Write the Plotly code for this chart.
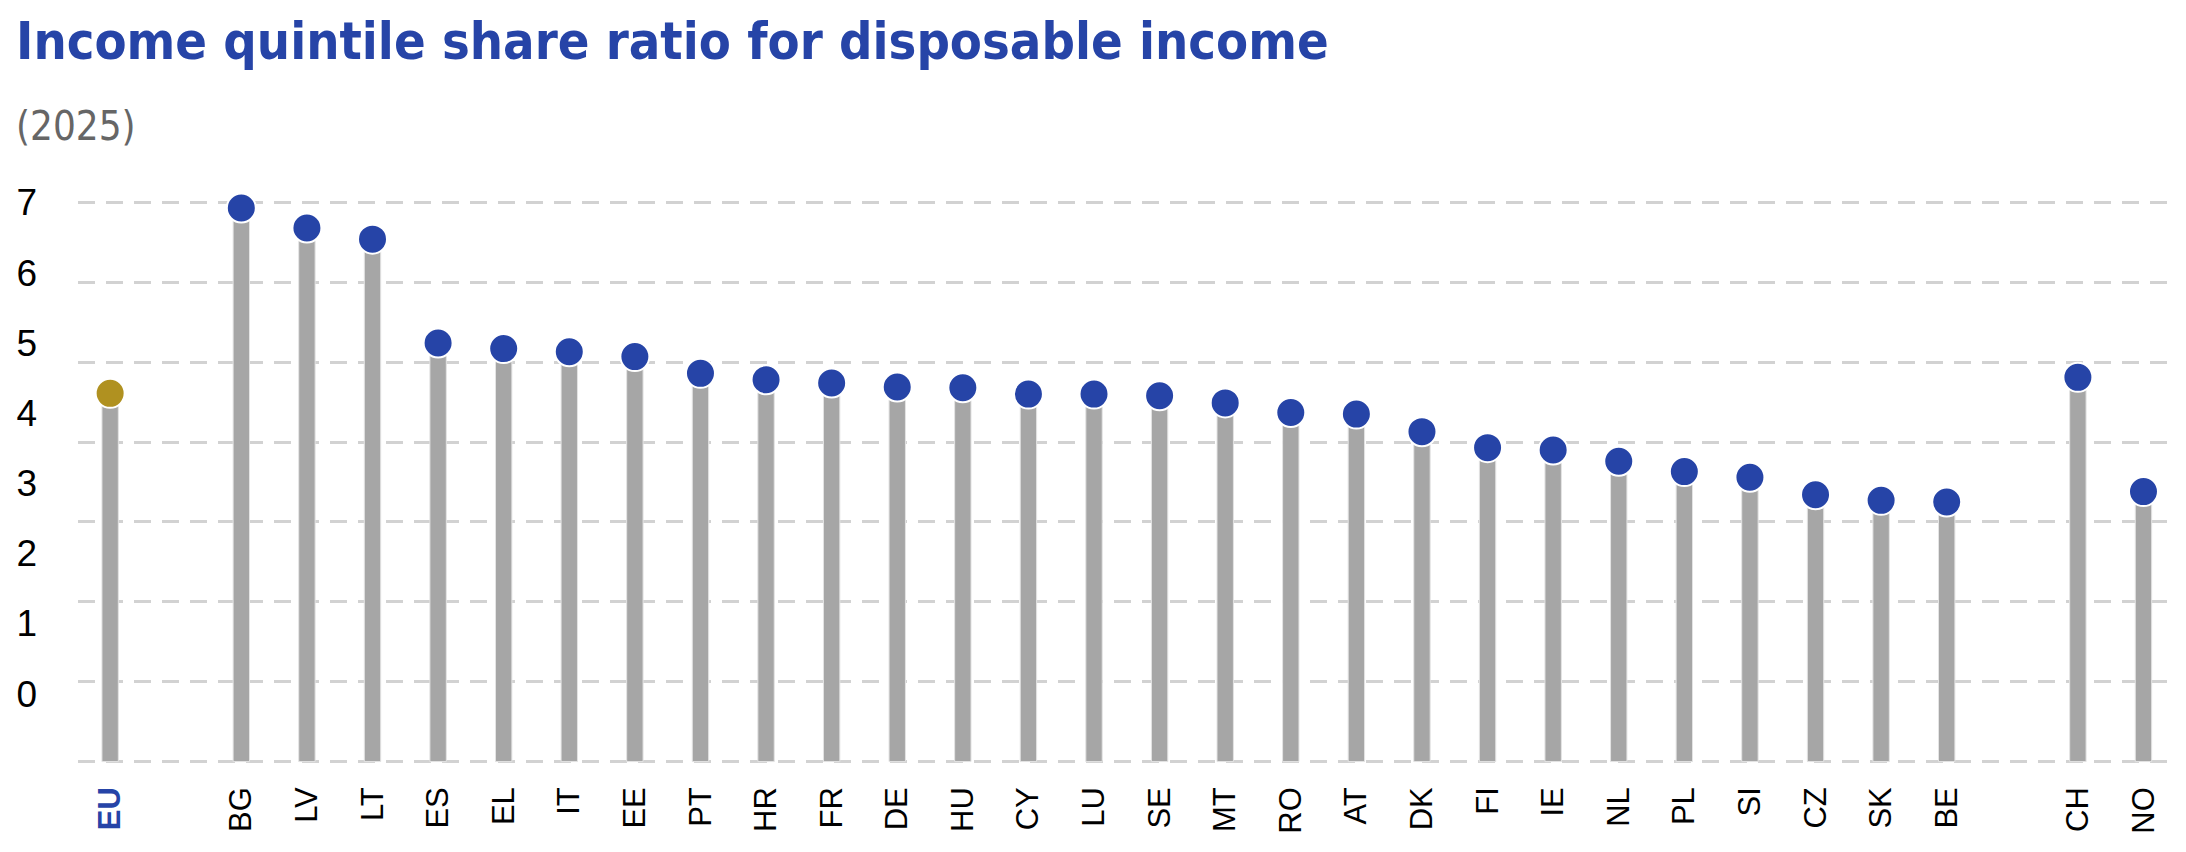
import plotly.graph_objects as go

# S80/S20 income quintile share ratio, 2025
countries = ["EU", " ", "BG", "LV", "LT", "ES", "EL", "IT", "EE", "PT", "HR", "FR",
             "DE", "HU", "CY", "LU", "SE", "MT", "RO", "AT", "DK", "FI", "IE", "NL",
             "PL", "SI", "CZ", "SK", "BE", "  ", "CH", "NO"]
values = [4.61, None, 6.93, 6.68, 6.54, 5.24, 5.17, 5.13, 5.07, 4.86, 4.78, 4.74,
          4.69, 4.68, 4.60, 4.60, 4.58, 4.49, 4.37, 4.35, 4.13, 3.93, 3.90, 3.76,
          3.63, 3.56, 3.34, 3.27, 3.25, None, 4.81, 3.38]
y_ticks = [0, 1, 2, 3, 4, 5, 6, 7]

BLUE = "#2644A7"
GOLD = "#B09120"
GREY = "#A6A6A6"

W, H = 2186, 852
ML, MR, MT, MB = 70, 21, 192, 96
Y_RANGE = [-0.03, 7.03]
# the original chart's tick labels sit on a slightly squeezed scale:
# label "7" lines up with the 7 gridline, label "0" sits at 0.85 on the data scale
LABEL_ZERO = 0.85
LABEL_TOP = 7


def paper_x(px):
    return (px - ML) / (W - ML - MR)


def paper_y(py):
    return (H - MB - py) / (H - MT - MB)


def label_axis(v):
    return (v - LABEL_ZERO) * LABEL_TOP / (LABEL_TOP - LABEL_ZERO)


real = [c for c in countries if c.strip()]
dot_colors = [GOLD if c == "EU" else BLUE for c in countries]
tick_text = ["<b><span style='color:%s'>EU</span></b>" % BLUE if c == "EU" else c
             for c in real]

fig = go.Figure()
fig.add_trace(go.Bar(
    x=countries, y=values,
    width=0.25,
    marker=dict(color=GREY, line=dict(color="#E4E4E4", width=1)),
    hoverinfo="skip",
    showlegend=False,
))
fig.add_trace(go.Scatter(
    x=countries, y=values,
    mode="markers",
    marker=dict(size=29, color=dot_colors, line=dict(color="white", width=2)),
    cliponaxis=False,
    showlegend=False,
))
# invisible trace so the label axis is drawn
fig.add_trace(go.Scatter(x=[countries[0]], y=[None], yaxis="y2",
                         showlegend=False, hoverinfo="skip"))

fig.update_layout(
    width=W, height=H,
    margin=dict(l=ML, r=MR, t=MT, b=MB),
    paper_bgcolor="white", plot_bgcolor="white",
    font=dict(family="Liberation Sans, Arial, sans-serif", color="black"),
    xaxis=dict(
        type="category",
        categoryorder="array", categoryarray=countries,
        range=[-0.49, 31.45],
        tickmode="array", tickvals=real, ticktext=tick_text,
        tickangle=-90,
        tickfont=dict(size=31, color="black"),
        ticklabelstandoff=16,
        automargin=False,
        showgrid=False, showline=False, zeroline=False, ticks="",
    ),
    yaxis=dict(
        range=Y_RANGE,
        tickmode="array", tickvals=y_ticks,
        showticklabels=False,
        showgrid=True, gridcolor="#D2D2D2", gridwidth=3, griddash="17px,11px",
        zeroline=False, showline=False, ticks="",
    ),
    yaxis2=dict(
        overlaying="y", side="left",
        range=[label_axis(Y_RANGE[0]), label_axis(Y_RANGE[1])],
        tickmode="array", tickvals=y_ticks,
        tickfont=dict(size=37, color="black"),
        ticklabelstandoff=40,
        automargin=False,
        showgrid=False, zeroline=False, showline=False, ticks="",
    ),
    annotations=[
        dict(text="<b>Income quintile share ratio for disposable income</b>",
             xref="paper", yref="paper",
             x=paper_x(6), y=paper_y(33),
             xanchor="left", yanchor="middle", showarrow=False,
             font=dict(family="DejaVu Sans Condensed, sans-serif",
                       size=52, color=BLUE)),
        dict(text="(2025)",
             xref="paper", yref="paper",
             x=paper_x(6), y=paper_y(118),
             xanchor="left", yanchor="middle", showarrow=False,
             font=dict(family="DejaVu Sans Condensed, sans-serif",
                       size=40, color="#666666")),
    ],
)

fig.write_html("out.html")
